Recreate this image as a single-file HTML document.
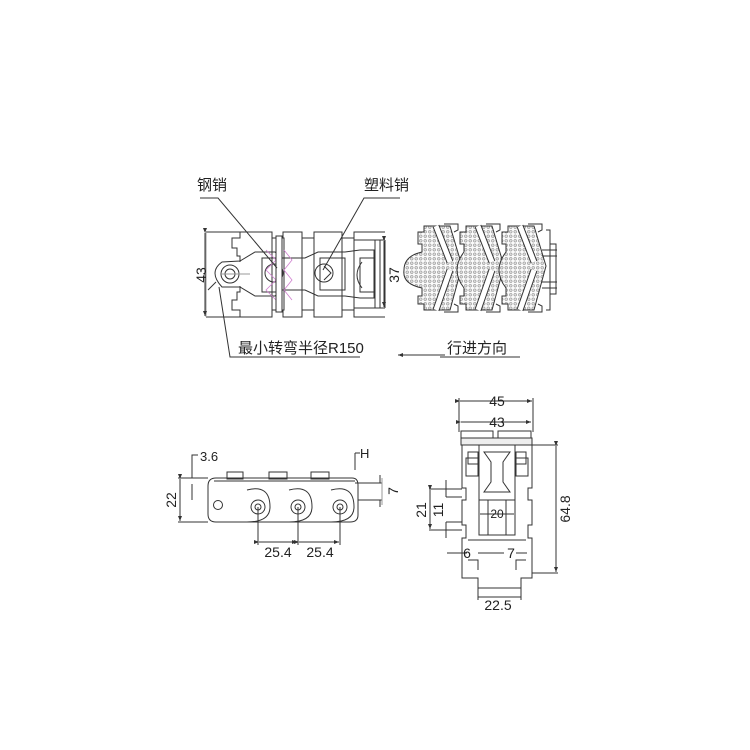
<!DOCTYPE html>
<html><head><meta charset="utf-8"><style>
html,body{margin:0;padding:0;background:#fff}
svg{display:block}
text{font-family:"Liberation Sans","Noto Sans CJK SC",sans-serif;fill:#222}
</style></head><body>
<svg width="750" height="750" viewBox="0 0 750 750" xmlns="http://www.w3.org/2000/svg">
<defs>
<pattern id="dots" width="4.5" height="4.5" patternUnits="userSpaceOnUse">
<rect width="4.5" height="4.5" fill="#fafafa"/>
<circle cx="2.25" cy="2.25" r="1.4" fill="#ddd" stroke="#777" stroke-width="0.5"/>
</pattern>
<marker id="ar" markerWidth="6" markerHeight="6" refX="5" refY="3" orient="auto"><path d="M0,1 L5,3 L0,5 Z" fill="#333"/></marker>
</defs>
<g fill="none" stroke="#333" stroke-width="1">
<!-- ===== TOP LEFT VIEW ===== -->
<line x1="206" y1="232" x2="240" y2="232"/>
<line x1="206" y1="317" x2="240" y2="317"/>
<line x1="206" y1="232" x2="206" y2="317" stroke="#999"/>
<line x1="205" y1="233" x2="205" y2="316" marker-start="url(#ar)" marker-end="url(#ar)"/>
<path d="M240,232 L240,238 L232,238 L232,248 L237,248 L237,256 L240,256 L240,262"/>
<path d="M240,317 L240,310 L232,310 L232,300 L237,300 L237,292 L240,292 L240,286"/>
<path d="M240,232 L272,232 L272,238 M283,238 L283,232 L302,232 L302,238 M314,238 L314,232 L342,232 L342,238 M354,238 L354,232 L385,232"/>
<path d="M240,317 L272,317 L272,310 M283,310 L283,317 L302,317 L302,310 M314,310 L314,317 L342,317 L342,310 M354,310 L354,317 L385,317"/>
<rect x="272" y="238" width="12" height="72"/>
<rect x="302" y="238" width="12" height="72"/>
<rect x="342" y="238" width="12" height="72"/>
<line x1="385" y1="240" x2="385" y2="308"/>
<line x1="354" y1="240" x2="385" y2="240"/>
<line x1="354" y1="308" x2="385" y2="308"/>
<line x1="380" y1="240" x2="380" y2="308"/>
<line x1="375" y1="240" x2="375" y2="308"/>
<line x1="384" y1="241" x2="384" y2="307" marker-start="url(#ar)" marker-end="url(#ar)"/>
<path d="M222,262 Q208,272 222,287 L240,287 L255,296 L275,296 L282,290 L305,290 L318,296 L345,296 L360,298 L374,298 L374,250 L360,250 L345,252 L318,252 L305,258 L282,258 L275,252 L255,252 L240,261 Z"/>
<path d="M262,258 L280,258 L280,292 L262,292 Z"/>
<path d="M320,258 L345,258 L345,290 L320,290 Z"/>
<path d="M360,258 L374,258 L374,292 L360,292 Z M362,262 Q352,275 362,288"/>
<circle cx="230" cy="274" r="9"/>
<circle cx="230" cy="274" r="5"/>
<circle cx="274" cy="273" r="9"/>
<circle cx="324" cy="273" r="9"/>
<path d="M324,266 L331,273 L324,280"/>
<line x1="220" y1="274" x2="250" y2="274" stroke="#999"/>
<g stroke="#d080d0" stroke-width="0.8">
<path d="M266,250 L276,260 L266,270 L276,280 L266,290 L276,300"/>
<path d="M284,250 L292,260 L284,270 L292,280 L284,290 L292,300"/>
</g>
<rect x="276" y="236" width="6" height="76" fill="#fff"/>
<path d="M200,198 L218,198 L277,268"/>
<path d="M400,198 L364,198 L323,270"/>
<path d="M208,290 L216,282"/>
<path d="M219,287 L230,357 L360,357"/>
<line x1="445" y1="355" x2="398" y2="355" marker-end="url(#ar)"/>
<line x1="440" y1="357" x2="520" y2="357"/>

<!-- ===== TOP RIGHT VIEW ===== -->
<g>
<path d="M418,232 L424,232 L424,226 L450,226 L462,266 L450,310 L424,310 L424,304 L418,304 L418,296 L422,296 L422,288 Q402,284 404,270 Q404,256 422,252 L422,244 L418,244 Z" fill="url(#dots)"/>
<path d="M460,232 L466,232 L466,226 L492,226 L504,266 L492,310 L466,310 L466,304 L460,304 L460,296 L464,296 L464,288 Q450,270 464,252 L464,244 L460,244 Z" fill="url(#dots)"/>
<path d="M502,232 L508,232 L508,226 L534,226 L546,266 L534,310 L508,310 L508,304 L502,304 L502,296 L506,296 L506,288 Q492,270 506,252 L506,244 L502,244 Z" fill="url(#dots)"/>
<g stroke-linejoin="miter">
<path d="M436,226 L450,262 M450,270 L436,310" stroke="#333" stroke-width="7"/>
<path d="M436,226 L450,262 M450,270 L436,310" stroke="#fff" stroke-width="5"/>
<path d="M478,226 L492,262 M492,270 L478,310" stroke="#333" stroke-width="7"/>
<path d="M478,226 L492,262 M492,270 L478,310" stroke="#fff" stroke-width="5"/>
<path d="M520,226 L534,262 M534,270 L520,310" stroke="#333" stroke-width="7"/>
<path d="M520,226 L534,262 M534,270 L520,310" stroke="#fff" stroke-width="5"/>
</g>
<path d="M444,224 L458,224 L458,230 L454,232 M486,224 L500,224 L500,230 L496,232 M528,224 L542,224 L542,230 L538,232"/>
<path d="M444,312 L458,312 L458,306 L454,304 M486,312 L500,312 L500,306 L496,304 M528,312 L542,312 L542,306 L538,304"/>
<path d="M546,230 L550,230 L550,310 L546,310"/>
<rect x="550" y="244" width="6" height="50"/>
<line x1="542" y1="250" x2="557" y2="250"/><line x1="542" y1="256" x2="557" y2="256"/>
<line x1="542" y1="282" x2="557" y2="282"/><line x1="542" y1="288" x2="557" y2="288"/>
</g>

<!-- ===== BOTTOM LEFT VIEW ===== -->
<path d="M216,478 L352,478 Q358,478 358,485 L358,515 Q358,522 350,522 L216,522 Q208,522 208,514 L208,486 Q208,478 216,478 Z"/>
<rect x="227" y="472" width="16" height="7"/>
<rect x="269" y="472" width="18" height="7"/>
<rect x="311" y="472" width="18" height="7"/>
<line x1="214" y1="481" x2="355" y2="481"/>
<line x1="355" y1="483" x2="382" y2="483"/>
<line x1="358" y1="500" x2="382" y2="500"/>
<line x1="380" y1="475" x2="380" y2="483"/><line x1="380" y1="500" x2="380" y2="507"/>
<line x1="382" y1="478" x2="382" y2="505" stroke="#999"/>
<path d="M247,490 Q270,484 270,507 Q270,522 247,522"/>
<path d="M289,490 Q312,484 312,507 Q312,522 289,522"/>
<path d="M331,490 Q354,484 354,507 Q354,522 331,522"/>
<circle cx="258" cy="507" r="7"/><circle cx="258" cy="507" r="3"/>
<circle cx="298" cy="507" r="7"/><circle cx="298" cy="507" r="3"/>
<circle cx="340" cy="507" r="7"/><circle cx="340" cy="507" r="3"/>
<circle cx="218" cy="505" r="4.5"/>
<line x1="258" y1="507" x2="258" y2="545"/><line x1="298" y1="507" x2="298" y2="545"/><line x1="340" y1="507" x2="340" y2="545"/>
<line x1="259" y1="542" x2="297" y2="542" marker-start="url(#ar)" marker-end="url(#ar)"/>
<line x1="299" y1="542" x2="339" y2="542" marker-start="url(#ar)" marker-end="url(#ar)"/>
<line x1="178" y1="478" x2="208" y2="478"/><line x1="178" y1="522" x2="208" y2="522"/>
<line x1="180" y1="479" x2="180" y2="521" marker-start="url(#ar)" marker-end="url(#ar)"/>
<path d="M198,455 L192,455 L192,478"/>
<line x1="192" y1="484" x2="192" y2="500"/>
<path d="M355,453 L355,470"/><line x1="355" y1="453" x2="360" y2="453"/>

<!-- ===== BOTTOM RIGHT VIEW ===== -->
<line x1="459" y1="398" x2="459" y2="432"/><line x1="533" y1="398" x2="533" y2="432"/>
<line x1="460" y1="401" x2="532" y2="401" marker-start="url(#ar)" marker-end="url(#ar)"/>
<line x1="461" y1="422" x2="531" y2="422" marker-start="url(#ar)" marker-end="url(#ar)"/>
<rect x="461" y="431" width="32" height="7"/><rect x="498" y="431" width="33" height="7"/>
<rect x="461" y="438" width="71" height="7" fill="#eee"/>
<path d="M462,445 L532,445 L532,488 L528,488 L528,500 L532,500 L532,525 L528,525 L528,538 L532,538 L532,578 L521,578 L521,588 L478,588 L478,578 L462,578 L462,538 L466,538 L466,525 L462,525 L462,500 L466,500 L466,488 L462,488 Z"/>
<rect x="468" y="452" width="10" height="12"/><rect x="516" y="452" width="10" height="12"/>
<rect x="466" y="458" width="12" height="18"/><rect x="516" y="458" width="12" height="18"/>
<rect x="479" y="445" width="36" height="55"/>
<path d="M484,452 L510,452 L503,462 L503,482 L510,492 L484,492 L491,482 L491,462 Z"/>
<rect x="479" y="500" width="36" height="35"/>
<line x1="488" y1="500" x2="488" y2="535"/><line x1="506" y1="500" x2="506" y2="535"/>
<path d="M468,540 L526,540 M468,560 L478,560 L478,570 M526,560 L516,560 L516,570"/>
<line x1="520" y1="445" x2="558" y2="445"/><line x1="532" y1="573" x2="558" y2="573"/>
<line x1="556" y1="446" x2="556" y2="572" marker-start="url(#ar)" marker-end="url(#ar)"/>
<line x1="478" y1="588" x2="478" y2="600"/><line x1="521" y1="588" x2="521" y2="600"/>
<line x1="478" y1="597" x2="521" y2="597"/>
<line x1="429" y1="489" x2="462" y2="489"/><line x1="429" y1="530" x2="462" y2="530"/>
<line x1="430" y1="490" x2="430" y2="529" marker-start="url(#ar)" marker-end="url(#ar)"/>
<line x1="446" y1="480" x2="446" y2="497"/><line x1="446" y1="522" x2="446" y2="538"/>
<line x1="446" y1="497" x2="462" y2="497"/><line x1="446" y1="522" x2="462" y2="522"/>
<line x1="480" y1="514" x2="514" y2="514"/>
<line x1="447" y1="553" x2="467" y2="553"/><line x1="478" y1="553" x2="504" y2="553"/><line x1="516" y1="553" x2="527" y2="553"/>
</g>

<g font-size="15">
<text x="197" y="190">钢销</text>
<text x="364" y="190">塑料销</text>
<text x="238" y="353">最小转弯半径R150</text>
<text x="447" y="353">行进方向</text>
</g>
<g font-size="14">
<text transform="translate(206,275) rotate(-90)" text-anchor="middle">43</text>
<text transform="translate(399,275) rotate(-90)" text-anchor="middle">37</text>
<text x="200" y="461" font-size="13">3.6</text>
<text x="360" y="458" font-size="13">H</text>
<text transform="translate(176,500) rotate(-90)" text-anchor="middle">22</text>
<text transform="translate(398,491) rotate(-90)" text-anchor="middle">7</text>
<text x="278" y="557" text-anchor="middle">25.4</text>
<text x="320" y="557" text-anchor="middle">25.4</text>
<text x="497" y="406" text-anchor="middle">45</text>
<text x="497" y="427" text-anchor="middle">43</text>
<text x="497" y="518" text-anchor="middle" font-size="12">20</text>
<text transform="translate(426,510) rotate(-90)" text-anchor="middle">21</text>
<text transform="translate(443,510) rotate(-90)" text-anchor="middle">11</text>
<text x="467" y="558" text-anchor="middle">6</text>
<text x="511" y="558" text-anchor="middle">7</text>
<text transform="translate(570,509) rotate(-90)" text-anchor="middle">64.8</text>
<text x="498" y="610" text-anchor="middle">22.5</text>
</g>
</svg>
</body></html>
